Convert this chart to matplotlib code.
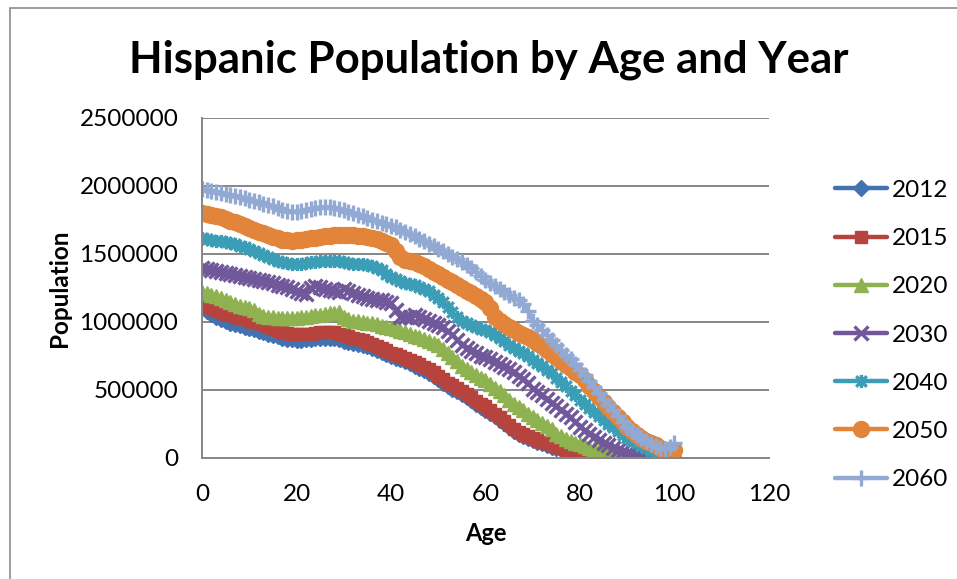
import matplotlib
matplotlib.use("Agg")
import matplotlib.pyplot as plt
from matplotlib.path import Path
from matplotlib.patches import Rectangle

plt.rcParams['font.family'] = ['Lato', 'DejaVu Sans']

ages = list(range(0, 101))

# Population (thousands) by single year of age, ages 0..100
pop_2012 = [1100, 1080, 1060, 1040, 1025, 1010, 995, 985, 975, 965,
            955, 945, 935, 925, 915, 905, 895, 885, 878, 872,
            870, 870, 872, 876, 880, 884, 886, 885, 880, 872,
            862, 855, 848, 840, 832, 822, 810, 796, 780, 765,
            750, 738, 725, 710, 695, 678, 662, 645, 625, 605,
            580, 555, 530, 510, 490, 470, 448, 425, 400, 378,
            355, 332, 308, 282, 255, 225, 200, 180, 162, 148,
            135, 120, 108, 96, 84, 72, 63, 55, 47, 40,
            35, 30, 25, 20, 16, 13, 10, 8, 6, 5,
            4, 3, 2, 2, 1, 1, 1, 0, 0, 0,
            0]
pop_2015 = [1130, 1115, 1100, 1085, 1070, 1060, 1050, 1040, 1030, 1020,
            1010, 1000, 990, 975, 960, 950, 940, 930, 920, 915,
            912, 910, 910, 915, 920, 925, 930, 930, 925, 915,
            905, 895, 885, 875, 865, 855, 840, 825, 810, 792,
            775, 765, 752, 738, 722, 705, 690, 672, 652, 630,
            605, 580, 555, 535, 515, 495, 470, 445, 420, 400,
            380, 355, 325, 298, 270, 240, 212, 192, 175, 160,
            150, 135, 120, 108, 95, 82, 72, 62, 54, 46,
            40, 34, 28, 23, 19, 15, 12, 9, 7, 5,
            4, 3, 2, 2, 1, 1, 1, 1, 1, 0,
            1]
pop_2020 = [1220, 1210, 1200, 1190, 1175, 1160, 1145, 1130, 1120, 1110,
            1100, 1085, 1060, 1045, 1040, 1035, 1032, 1030, 1028, 1028,
            1030, 1035, 1040, 1045, 1050, 1055, 1060, 1065, 1068, 1070,
            1040, 1020, 1010, 1005, 1000, 995, 990, 982, 972, 962,
            955, 945, 935, 925, 912, 900, 888, 875, 860, 845,
            830, 805, 775, 745, 710, 680, 655, 630, 610, 590,
            570, 545, 515, 490, 460, 430, 400, 375, 350, 325,
            305, 280, 255, 232, 210, 180, 160, 142, 125, 110,
            100, 88, 76, 66, 56, 48, 40, 33, 27, 22,
            18, 14, 11, 8, 6, 5, 4, 3, 2, 2,
            3]
pop_2030 = [1400, 1392, 1385, 1378, 1370, 1362, 1355, 1348, 1340, 1332,
            1325, 1318, 1310, 1302, 1295, 1285, 1275, 1265, 1255, 1245,
            1230, 1215, 1205, 1250, 1265, 1255, 1245, 1235, 1225, 1220,
            1240, 1230, 1215, 1200, 1190, 1180, 1172, 1165, 1160, 1150,
            1140, 1090, 1040, 1035, 1040, 1050, 1040, 1025, 1010, 995,
            980, 960, 935, 905, 870, 830, 810, 790, 770, 750,
            740, 725, 705, 690, 672, 655, 630, 605, 580, 555,
            510, 485, 460, 432, 405, 380, 352, 325, 298, 265,
            230, 205, 180, 158, 132, 110, 92, 76, 62, 50,
            40, 32, 25, 19, 14, 10, 7, 5, 4, 3,
            5]
pop_2040 = [1620, 1612, 1605, 1598, 1592, 1585, 1578, 1570, 1560, 1548,
            1535, 1520, 1505, 1490, 1475, 1462, 1450, 1440, 1432, 1428,
            1428, 1430, 1434, 1438, 1442, 1446, 1450, 1452, 1450, 1446,
            1440, 1435, 1430, 1428, 1425, 1420, 1412, 1400, 1380, 1355,
            1330, 1315, 1300, 1290, 1280, 1270, 1258, 1245, 1225, 1200,
            1180, 1150, 1110, 1070, 1035, 1010, 995, 980, 965, 950,
            940, 925, 905, 885, 860, 830, 810, 790, 770, 748,
            720, 698, 675, 650, 622, 590, 560, 528, 495, 462,
            430, 400, 368, 338, 308, 280, 252, 225, 198, 172,
            150, 128, 108, 90, 72, 55, 42, 32, 25, 20,
            25]
pop_2050 = [1800, 1795, 1788, 1780, 1770, 1758, 1745, 1732, 1720, 1705,
            1690, 1678, 1665, 1652, 1640, 1628, 1615, 1605, 1600, 1598,
            1600, 1604, 1608, 1614, 1620, 1626, 1632, 1636, 1640, 1642,
            1642, 1640, 1638, 1635, 1632, 1626, 1618, 1608, 1596, 1584,
            1565, 1520, 1475, 1455, 1450, 1440, 1425, 1410, 1390, 1370,
            1350, 1330, 1312, 1295, 1272, 1250, 1230, 1212, 1192, 1170,
            1150, 1100, 1040, 1010, 985, 960, 940, 920, 905, 888,
            870, 848, 822, 795, 768, 740, 712, 685, 660, 635,
            610, 572, 532, 492, 452, 410, 372, 335, 298, 262,
            230, 200, 172, 148, 128, 110, 92, 76, 62, 52,
            60]
pop_2060 = [1980, 1972, 1965, 1958, 1950, 1942, 1935, 1928, 1920, 1910,
            1900, 1890, 1880, 1870, 1860, 1850, 1838, 1826, 1815, 1810,
            1812, 1818, 1825, 1832, 1838, 1842, 1845, 1844, 1840, 1832,
            1822, 1812, 1800, 1788, 1776, 1765, 1752, 1740, 1728, 1718,
            1708, 1695, 1680, 1665, 1648, 1630, 1612, 1595, 1575, 1558,
            1540, 1520, 1500, 1480, 1460, 1440, 1420, 1395, 1370, 1340,
            1310, 1290, 1268, 1245, 1222, 1200, 1180, 1160, 1130, 1080,
            1010, 975, 940, 905, 870, 830, 795, 760, 725, 690,
            650, 608, 565, 520, 475, 430, 390, 350, 308, 268,
            230, 200, 172, 148, 125, 103, 88, 76, 68, 80,
            110]

years = ['2012', '2015', '2020', '2030', '2040', '2050', '2060']
series = [pop_2012, pop_2015, pop_2020, pop_2030, pop_2040, pop_2050, pop_2060]

y_ticks = [0, 500000, 1000000, 1500000, 2000000, 2500000]
x_ticks = [0, 20, 40, 60, 80, 100, 120]

# Excel-style asterisk: vertical bar plus two diagonals
star = Path([(-1, -1), (1, 1), (-1, 1), (1, -1), (0, -1.25), (0, 1.25)],
            [Path.MOVETO, Path.LINETO, Path.MOVETO, Path.LINETO, Path.MOVETO, Path.LINETO])

styles = [
    dict(color='#4273B0', marker='D', ms=8, mfc='#4273B0', mec='#4273B0'),
    dict(color='#B7433F', marker='s', ms=9, mfc='#B7433F', mec='#B7433F'),
    dict(color='#8FB250', marker='^', ms=10.5, mfc='#8FB250', mec='#8FB250'),
    dict(color='#71589A', marker='x', ms=10, mew=2.4, mec='#71589A'),
    dict(color='#3C9DB7', marker=star, ms=9.5, mew=2.4, mfc='none', mec='#3C9DB7'),
    dict(color='#E2843A', marker='o', ms=11.5, mfc='#E2843A', mec='#E2843A'),
    dict(color='#92AAD3', marker='+', ms=12, mew=2.4, mec='#92AAD3'),
]

fig = plt.figure(figsize=(9.57, 5.79), dpi=100)
ax = fig.add_axes([202 / 957, 1 - 458 / 579, 567 / 957, 340 / 579])

# chart border
fig.patches.append(Rectangle((10 / 957, -0.5), 2, 0.5 + (579 - 8) / 579,
                             transform=fig.transFigure, fill=False,
                             edgecolor='#8C8C8C', lw=1.2))

for yr, vals, st in zip(years, series, styles):
    ax.plot(ages, [v * 1000 for v in vals], label=yr, lw=3.2,
            solid_capstyle='round', solid_joinstyle='round', **st)

ax.set_xlim(0, 120)
ax.set_ylim(0, 2500000)
ax.set_xticks(x_ticks)
ax.set_yticks(y_ticks)
ax.set_xticklabels([str(t) for t in x_ticks])
ax.set_yticklabels([str(t) for t in y_ticks])
ax.tick_params(axis='both', labelsize=17.5, colors='#000000', length=0)
ax.tick_params(axis='x', pad=19)
ax.tick_params(axis='y', pad=17)
ax.grid(axis='y', color='#868686', lw=1.4)
ax.set_axisbelow(True)
for s in ['top', 'right']:
    ax.spines[s].set_visible(False)
for s in ['left', 'bottom']:
    ax.spines[s].set_color('#868686')
    ax.spines[s].set_linewidth(1.4)

ax.set_xlabel('Age', fontsize=17, fontweight='bold', labelpad=12)
ax.set_ylabel('Population', fontsize=17.5, fontweight='bold', labelpad=6)

fig.text(489 / 957, 1 - 60 / 579, 'Hispanic Population by Age and Year',
         ha='center', va='center', fontsize=31.5, fontweight='bold')

leg = fig.legend(loc='center left', bbox_to_anchor=(825 / 957, 1 - 335 / 579),
                 frameon=False, fontsize=17.5, handlelength=2.15,
                 handletextpad=0.2, labelspacing=1.12, borderaxespad=0)

fig.savefig('out.png', dpi=100)
